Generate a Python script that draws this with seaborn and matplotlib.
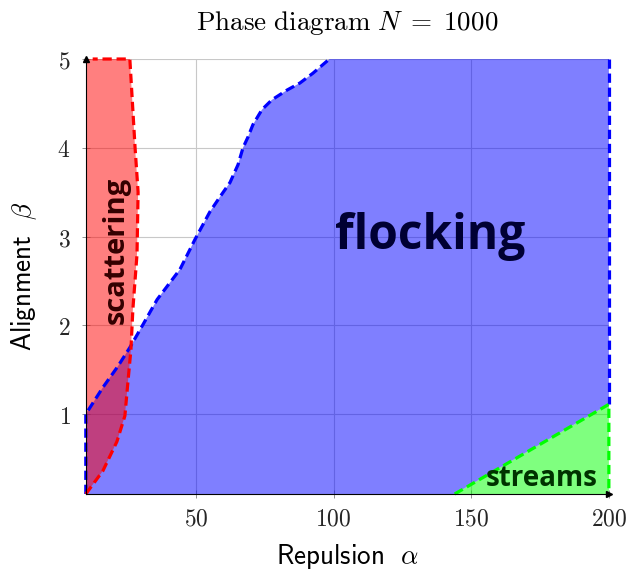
import matplotlib
matplotlib.use("Agg")
import matplotlib.pyplot as plt
import seaborn as sns
import numpy as np
import pandas as pd

# ---- data ----
# scattering region right boundary (alpha, beta)
scat_x = [10, 16.2, 21.3, 24.2, 25.3, 26.4, 27.1, 28.6, 29.0, 27.9, 26.0]
scat_y = [0.1, 0.36, 0.69, 0.98, 1.36, 1.73, 2.18, 2.8, 3.5, 4.0, 5.0]

# flocking region left boundary (alpha, beta)
flock_x = [10, 16.2, 21.7, 26.0, 30.8, 35.9, 44.2, 49.7, 55.1, 58.8, 62.4, 65.3, 67.1,
           68.9, 70.7, 74.0, 77.6, 83.1, 87.8, 92.5, 98.5]
flock_y = [1.0, 1.30, 1.54, 1.75, 2.01, 2.29, 2.63, 2.97, 3.28, 3.45, 3.61, 3.81, 4.0,
           4.12, 4.26, 4.43, 4.54, 4.65, 4.73, 4.84, 5.0]

# streams region boundary
stream_x = [144, 200]
stream_y = [0.1, 1.11]

xmin, xmax, ymin, ymax = 10, 200, 0.1, 5
xticks = [50, 100, 150, 200]
yticks = [1, 2, 3, 4, 5]

sns.set_theme(style="white")
plt.rcParams["mathtext.fontset"] = "cm"
plt.rcParams["font.family"] = ["DejaVu Sans"]

fig = plt.figure(figsize=(6.29, 5.74), dpi=100)
ax = fig.add_axes([0.1364, 0.1394, 0.968 - 0.1364, 0.8972 - 0.1394])

ax.set_xlim(xmin, xmax)
ax.set_ylim(ymin, ymax)
ax.set_xticks(xticks)
ax.set_yticks(yticks)
ax.set_xticklabels([f"${t}$" for t in xticks])
ax.set_yticklabels([f"${t}$" for t in yticks])
ax.grid(True, color="#c8c8c8", lw=0.8)
ax.set_axisbelow(True)

RED, BLUE, GREEN = "#ff0000", "#0000ff", "#00ff00"

def dline(x, y, color):
    df = pd.DataFrame({"x": x, "y": y})
    sns.lineplot(data=df, x="x", y="y", sort=False, estimator=None, ax=ax,
                 color=color, lw=2.3, dashes=False, clip_on=False, zorder=3)
    ax.lines[-1].set_dashes((2.9, 1.5))

# flocking (blue) polygon
fx = [xmin] + flock_x + [xmax, xmax] + stream_x[::-1][1:]
fy = [ymin] + flock_y + [ymax, stream_y[1]] + [stream_y[0]]
ax.fill(fx, fy, color=BLUE, alpha=0.5, lw=0, zorder=2)
dline([xmin] + flock_x, [ymin] + flock_y, BLUE)
dline([xmax, xmax], [ymax, stream_y[1]], BLUE)

# scattering (red) polygon
sx = [xmin] + scat_x + [xmin]
sy = [ymin] + scat_y + [ymax]
ax.fill(sx, sy, color=RED, alpha=0.5, lw=0, zorder=2)
dline(scat_x + [xmin + 2.5], scat_y + [ymax], RED)

# streams (green) triangle
gx = stream_x + [xmax]
gy = stream_y + [ymin]
ax.fill(gx, gy, color=GREEN, alpha=0.5, lw=0, zorder=2)
dline(stream_x + [xmax], stream_y + [ymin], GREEN)

# region labels
ax.text(135, 3.0, "flocking", fontfamily="Open Sans", fontweight="bold",
        fontsize=34.5, color="#000033", ha="center", va="center", zorder=4)
ax.text(21, 2.84, "scattering", fontfamily="Open Sans", fontweight="bold",
        fontsize=21, color="#330000", ha="center", va="center", rotation=90, zorder=4)
ax.text(175.5, 0.28, "streams", fontfamily="Open Sans", fontweight="bold",
        fontsize=20, color="#003300", ha="center", va="center", zorder=4)

# axes styling
for s in ["top", "right"]:
    ax.spines[s].set_visible(False)
for s in ["left", "bottom"]:
    ax.spines[s].set_color("black")
    ax.spines[s].set_linewidth(0.8)
    ax.spines[s].set_zorder(5)
ax.tick_params(axis="both", which="both", length=6, width=0.6, color="#808080",
               direction="inout", labelsize=17, left=True, bottom=True)
ax.tick_params(axis="y", pad=8)
ax.tick_params(axis="x", pad=6)
ax.plot([0], [1], marker="^", color="black", ms=4, transform=ax.transAxes, clip_on=False, zorder=6)
ax.plot([1], [0], marker=">", color="black", ms=4, transform=ax.transAxes, clip_on=False, zorder=6)

ax.set_title(r"$\mathrm{Phase\ diagram}\ N\;=\;1000$", fontsize=19.5, pad=21, color="black")
ax.set_xlabel(r"$\mathsf{Repulsion}\ \ \alpha$", fontsize=19.5, color="black", labelpad=8)
ax.set_ylabel(r"$\mathsf{Alignment}\ \ \beta$", fontsize=19.5, color="black", labelpad=13)

fig.savefig("out.png", dpi=100)
